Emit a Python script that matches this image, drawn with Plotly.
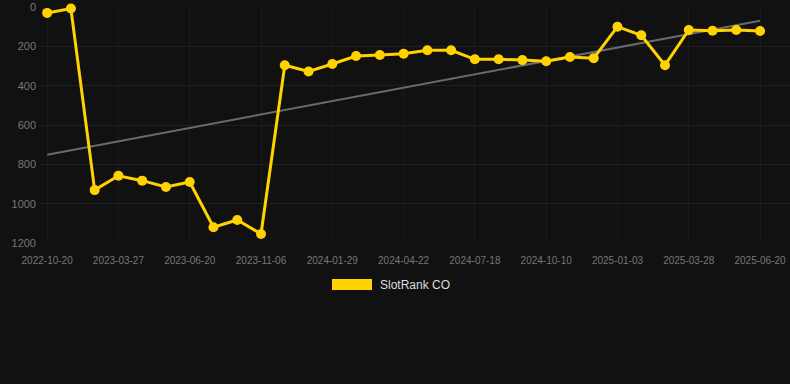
import plotly.graph_objects as go

tick_labels = ["2022-10-20", "2023-03-27", "2023-06-20", "2023-11-06", "2024-01-29",
               "2024-04-22", "2024-07-18", "2024-10-10", "2025-01-03", "2025-03-28", "2025-06-20"]
tick_step = 3

rank_values = [30, 8, 931, 858, 883, 915, 890, 1120, 1083, 1154,
               296, 328, 290, 249, 244, 238, 220, 220, 266, 266,
               270, 276, 254, 260, 100, 144, 296, 117, 121, 117, 122]

trend_values = [751, 70]

series_name = "SlotRank CO"
gold = "#FFD200"

n = len(rank_values)
xs = list(range(n))
tickvals = list(range(0, n, tick_step))

fig = go.Figure()
fig.add_trace(go.Scatter(
    x=[xs[0], xs[-1]], y=trend_values, mode="lines",
    line=dict(color="#6a6a6a", width=2), showlegend=False, hoverinfo="skip"))
fig.add_trace(go.Scatter(
    x=xs, y=rank_values, mode="lines+markers", name=series_name,
    line=dict(color=gold, width=3), marker=dict(color=gold, size=10),
    showlegend=False, cliponaxis=False))

plot_l, plot_r, plot_t, plot_b = 40, 790, 7, 243
W, H = 790, 384
pw, ph = plot_r - plot_l, plot_b - plot_t

def px(x):
    return (x - plot_l) / pw

def py(y):
    return (plot_b - y) / ph

fig.add_shape(type="rect", xref="paper", yref="paper",
              x0=px(332), x1=px(372), y0=py(290), y1=py(279),
              fillcolor=gold, line=dict(width=0))
fig.add_annotation(xref="paper", yref="paper", x=px(378), y=py(284.5),
                   xanchor="left", yanchor="middle", showarrow=False,
                   text=series_name, font=dict(color="#dddddd", size=12))

fig.update_layout(
    width=W, height=H,
    margin=dict(l=plot_l, r=W - plot_r, t=plot_t, b=H - plot_b),
    paper_bgcolor="#111111", plot_bgcolor="#111111",
    font=dict(family="Liberation Sans, Arial, sans-serif"),
    showlegend=False,
)
fig.update_xaxes(
    range=[-0.3, 31.26], tickmode="array", tickvals=tickvals, ticktext=tick_labels,
    showgrid=True, gridcolor="#1a1a1a", gridwidth=1, zeroline=False,
    showline=False, tickfont=dict(color="#777777", size=10), ticks="",
    ticklabelstandoff=10,
)
fig.update_yaxes(
    range=[1200, 0], tickvals=[0, 200, 400, 600, 800, 1000, 1200],
    showgrid=True, gridcolor="#1f1f1f", gridwidth=1, zeroline=False,
    showline=False, tickfont=dict(color="#777777", size=11), ticks="",
    ticklabelstandoff=3,
)

fig.write_html("out.html", config={"displayModeBar": False},
               post_script="document.body.style.margin='0';document.body.style.background='#111111';")
